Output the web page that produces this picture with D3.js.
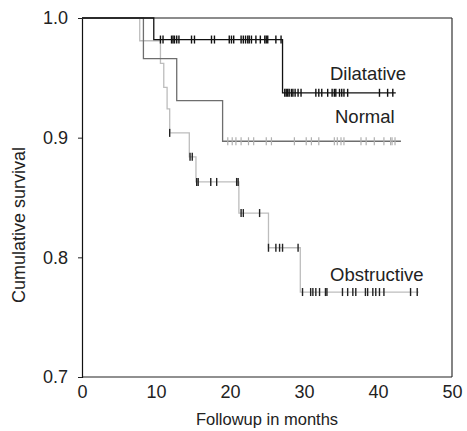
<!DOCTYPE html>
<html>
<head>
<meta charset="utf-8">
<script src="https://cdn.jsdelivr.net/npm/d3@7"></script>
<style>
  body { margin: 0; background: #fff; }
  svg text { font-family: "Liberation Sans", Arial, sans-serif; fill: #222; }
</style>
</head>
<body>
<div id="chart"></div>
<script>
// Kaplan-Meier steps: survival holds from time[i] until time[i+1]
var dilatTimes = [0, 9.7, 27.1, 42.4];
var dilatSurv = [1.0, 0.982, 0.9375, 0.9375];
var dilatCensor = [10.6, 10.95, 12.1, 12.3, 12.5, 12.8, 13.1, 14.8, 15.2, 17.5, 17.9, 19.9, 20.2, 20.5,
    21.5, 21.8, 22.1, 22.4, 22.6, 22.9, 23.5, 24.1, 24.7, 24.9, 25.1, 26.2, 26.9,
    27.4, 27.6, 27.8, 28.0, 28.3, 28.5, 28.8, 29.2, 29.6, 31.6, 32.0, 32.4, 33.2, 33.8,
    34.1, 34.3, 34.8, 35.1, 35.4, 35.9, 40.2, 41.3, 42.0];

var normalTimes = [0, 8.3, 12.8, 19.0, 43.1];
var normalSurv = [1.0, 0.966, 0.931, 0.897, 0.897];
var normalCensor = [19.7, 20.3, 20.8, 21.5, 22.5, 23.2, 24.9, 25.6, 28.7, 30.3, 31.0, 32.0,
    34.1, 34.5, 35.0, 35.4, 37.7, 38.4, 39.5, 40.8, 41.7, 41.9, 42.3];

var obstrTimes = [0, 7.8, 10.6, 11.05, 11.5, 11.85, 14.5, 15.4, 21.2, 25.2, 29.5, 45.5];
var obstrSurv = [1.0, 0.981, 0.962, 0.942, 0.924, 0.904, 0.884, 0.863, 0.837, 0.808, 0.771, 0.771];
var obstrCensor = [11.85, 14.6, 14.9, 15.5, 15.7, 17.4, 18.2, 20.9, 21.1, 21.5, 21.8, 24.0,
    25.2, 26.2, 26.7, 27.1, 29.2, 29.8, 30.9, 31.2, 31.6, 32.1, 32.9, 33.1, 35.2, 35.9,
    36.6, 37.0, 38.3, 38.6, 39.3, 39.7, 40.2, 40.8, 44.4, 45.3];

var groupNames = ["Dilatative", "Normal", "Obstructive"];
var xTicks = [0, 10, 20, 30, 40, 50];
var yTicks = [0.7, 0.8, 0.9, 1.0];

var W = 467, H = 431;
var mLeft = 82, mRight = 452, mTop = 18, mBottom = 377;

var svg = d3.select("#chart").append("svg").attr("width", W).attr("height", H);

var x = d3.scaleLinear().domain([0, 50]).range([mLeft, mRight]);
var y = d3.scaleLinear().domain([0.7, 1.0]).range([mBottom, mTop]);

// frame: top edge is grey, the rest dark
svg.append("line")
    .attr("x1", mLeft).attr("x2", mRight).attr("y1", mTop).attr("y2", mTop)
    .attr("stroke", "#666").attr("stroke-width", 1.6);
svg.append("line")
    .attr("x1", mRight).attr("x2", mRight).attr("y1", mTop).attr("y2", mBottom)
    .attr("stroke", "#333").attr("stroke-width", 1.2);
svg.append("line")
    .attr("x1", mLeft).attr("x2", mRight).attr("y1", mBottom).attr("y2", mBottom)
    .attr("stroke", "#222").attr("stroke-width", 1.2);

var yAxis = svg.append("g")
    .attr("transform", "translate(" + mLeft + ",0)")
    .call(d3.axisLeft(y).tickValues(yTicks).tickFormat(d3.format(".1f")).tickSize(4).tickPadding(10));
yAxis.select(".domain").attr("stroke", "#111").attr("stroke-width", 1.2);
yAxis.selectAll("line").attr("stroke", "#222");
yAxis.selectAll("text").attr("font-size", 18).attr("fill", "#222");

var xAxis = svg.append("g")
    .attr("transform", "translate(0," + mBottom + ")")
    .call(d3.axisBottom(x).tickValues(xTicks).tickFormat(d3.format("d")).tickSize(0).tickPadding(8));
xAxis.select(".domain").remove();
xAxis.selectAll("text").attr("font-size", 18).attr("fill", "#222");

svg.append("text")
    .attr("x", (mLeft + mRight) / 2)
    .attr("y", 425)
    .attr("text-anchor", "middle")
    .attr("font-size", 16.5)
    .text("Followup in months");

svg.append("text")
    .attr("transform", "translate(25,225) rotate(-90)")
    .attr("text-anchor", "middle")
    .attr("font-size", 18)
    .text("Cumulative survival");

var line = d3.line()
    .x(function(d){ return x(d[0]); })
    .y(function(d){ return y(d[1]); })
    .curve(d3.curveStepAfter);

function survAt(times, surv, t){
    var s = surv[0];
    for(var i = 0; i < times.length; i++){
        if(times[i] <= t) s = surv[i];
    }
    return s;
}

function drawCurve(times, surv, censor, lineColor, tickColor, tickWidth){
    var pts = times.map(function(t, i){ return [t, surv[i]]; });
    svg.append("path")
        .datum(pts)
        .attr("d", line)
        .attr("fill", "none")
        .attr("stroke", lineColor)
        .attr("stroke-width", 1.3);

    svg.selectAll(null)
        .data(censor)
        .enter()
        .append("line")
        .attr("x1", function(d){ return x(d); })
        .attr("x2", function(d){ return x(d); })
        .attr("y1", function(d){ return y(survAt(times, surv, d)) - 4; })
        .attr("y2", function(d){ return y(survAt(times, surv, d)) + 4; })
        .attr("stroke", tickColor)
        .attr("stroke-width", tickWidth);
}

drawCurve(obstrTimes, obstrSurv, obstrCensor, "#bdbdbd", "#222", 1.4);
drawCurve(normalTimes, normalSurv, normalCensor, "#6e6e6e", "#b0b0b0", 1.2);
drawCurve(dilatTimes, dilatSurv, dilatCensor, "#111", "#111", 1.4);

// curve labels
var labelPos = [[330, 80], [335, 123], [330, 281]];
groupNames.forEach(function(name, i){
    svg.append("text")
        .attr("x", labelPos[i][0])
        .attr("y", labelPos[i][1])
        .attr("font-size", 18.5)
        .text(name);
});
</script>
</body>
</html>
